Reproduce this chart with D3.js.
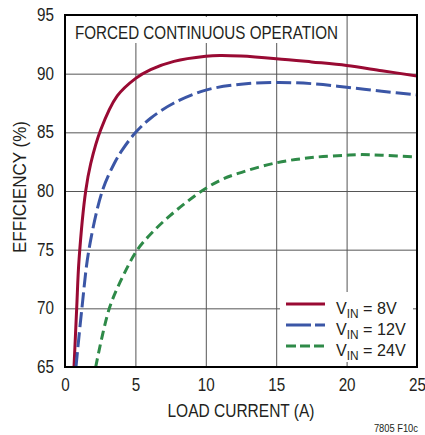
<!DOCTYPE html>
<html>
<head>
<meta charset="utf-8">
<script src="https://cdn.jsdelivr.net/npm/d3@7"></script>
<style>
  body { margin: 0; background: #fff; }
  svg text { font-family: "Liberation Sans", Arial, sans-serif; fill: #231f20; }
</style>
</head>
<body>
<svg id="chart"></svg>
<script>
var width = 425;
var height = 435;
var margin = { top: 15, right: 8, bottom: 68, left: 65 };
var innerW = width - margin.left - margin.right;
var innerH = height - margin.top - margin.bottom;

// load current (A) / efficiency (%)
var load8 = [0.64, 0.83, 1.0, 1.47, 1.82, 2.53, 3.71, 5.02, 6.08, 7.74, 10, 11, 12.5, 15, 17.5, 20, 22.5, 25];
var eff8 = [65, 70, 74.2, 80, 82.3, 85.2, 88.1, 89.6, 90.35, 91.05, 91.48, 91.55, 91.5, 91.28, 91.0, 90.7, 90.25, 89.8];
var load12 = [0.78, 1.2, 1.7, 2.65, 3.48, 4.07, 5.02, 6.08, 7.74, 10, 12.5, 15, 17.5, 20, 22.5, 25];
var eff12 = [65, 70, 75, 80, 82.3, 83.5, 85, 86.2, 87.5, 88.6, 89.1, 89.25, 89.15, 88.85, 88.5, 88.2];
var load24 = [2.18, 3.15, 4.1, 5.15, 6.27, 7.46, 8.64, 9.71, 11.0, 12.3, 15, 17.5, 20, 21, 22.5, 25];
var eff24 = [65, 70, 72.7, 75, 76.56, 77.9, 79.06, 80, 80.9, 81.5, 82.4, 82.85, 83.05, 83.1, 83.05, 82.9];

var xTicks = [0, 5, 10, 15, 20, 25];
var yTicks = [65, 70, 75, 80, 85, 90, 95];
var seriesNames = ['8V', '12V', '24V'];

var series = [
  { name: seriesNames[0], x: load8, y: eff8, color: '#990a33', dash: null, legendDash: null },
  { name: seriesNames[1], x: load12, y: eff12, color: '#3b56a6', dash: '15,5', legendDash: '25,4' },
  { name: seriesNames[2], x: load24, y: eff24, color: '#2e8a48', dash: '9,5', legendDash: '10,4' }
];

// squeeze text horizontally about its anchor point (condensed look)
var narrow = function(sel, k) {
  sel.each(function() {
    var ax = +this.getAttribute('x') || 0;
    this.setAttribute('transform', 'translate(' + ax + ',0) scale(' + k + ',1) translate(' + (-ax) + ',0)');
  });
};
var fitWidth = function(sel, w) {
  sel.attr('textLength', w).attr('lengthAdjust', 'spacingAndGlyphs');
};

var svg = d3.select('#chart').attr('width', width).attr('height', height);
var g = svg.append('g').attr('transform', 'translate(' + margin.left + ',' + margin.top + ')');

var x = d3.scaleLinear().domain([0, 25]).range([0, innerW]);
var y = d3.scaleLinear().domain([65, 95]).range([innerH, 0]);

// grid + tick labels
var xAxis = g.append('g')
  .attr('transform', 'translate(0,' + innerH + ')')
  .call(d3.axisBottom(x).tickValues(xTicks).tickSizeInner(-innerH).tickSizeOuter(0).tickPadding(12));
var yAxis = g.append('g')
  .call(d3.axisLeft(y).tickValues(yTicks).tickSizeInner(-innerW).tickSizeOuter(0).tickPadding(11));
[xAxis, yAxis].forEach(function(a) {
  a.select('.domain').remove();
  a.selectAll('line').attr('stroke', '#555').attr('stroke-width', 1);
  a.selectAll('text').attr('font-size', 17.5).attr('fill', '#231f20')
    .style('font-family', '"Liberation Sans", Arial, sans-serif')
    .call(narrow, 0.87);
});

g.append('clipPath').attr('id', 'plot-clip')
  .append('rect').attr('width', innerW).attr('height', innerH);

var line = d3.line()
  .x(function(d) { return x(d[0]); })
  .y(function(d) { return y(d[1]); })
  .curve(d3.curveCatmullRom.alpha(0.5));

g.append('g').attr('clip-path', 'url(#plot-clip)')
  .selectAll('path').data(series).enter()
  .append('path')
  .attr('d', function(s) { return line(d3.zip(s.x, s.y)); })
  .attr('fill', 'none')
  .attr('stroke', function(s) { return s.color; })
  .attr('stroke-width', 3)
  .attr('stroke-dasharray', function(s) { return s.dash; });

// title box
g.append('rect').attr('x', 2).attr('y', 2).attr('width', 278).attr('height', 26).attr('fill', '#fff');
g.append('text').attr('x', 10).attr('y', 24).attr('font-size', 18.5)
  .text('FORCED CONTINUOUS OPERATION')
  .call(fitWidth, 263);

// legend
var legend = g.append('g').attr('transform', 'translate(215,277)');
legend.append('rect').attr('x', 0).attr('y', 0).attr('width', 133).attr('height', 70).attr('fill', '#fff');
var rows = legend.selectAll('.row').data(series).enter()
  .append('g').attr('class', 'row')
  .attr('transform', function(d, i) { return 'translate(0,' + (12 + i * 21) + ')'; });
rows.append('line')
  .attr('x1', 6).attr('x2', 45).attr('y1', 0).attr('y2', 0)
  .attr('stroke', function(d) { return d.color; })
  .attr('stroke-width', 3)
  .attr('stroke-dasharray', function(d) { return d.legendDash; });
var lt = rows.append('text').attr('x', 56).attr('y', 10).attr('font-size', 17);
lt.append('tspan').text('V');
lt.append('tspan').attr('dy', 4).attr('font-size', 12.5).text('IN');
lt.append('tspan').attr('dy', -4).text(function(d) { return ' = ' + d.name; });
lt.call(narrow, 0.95);

// frame
g.append('rect').attr('width', innerW).attr('height', innerH)
  .attr('fill', 'none').attr('stroke', '#000').attr('stroke-width', 2);

// axis titles
svg.append('text').attr('x', margin.left + innerW / 2).attr('y', 417)
  .attr('text-anchor', 'middle').attr('font-size', 18).text('LOAD CURRENT (A)')
  .call(fitWidth, 147);
svg.append('text').attr('transform', 'translate(26,187) rotate(-90)')
  .attr('text-anchor', 'middle').attr('font-size', 18).text('EFFICIENCY (%)')
  .call(fitWidth, 132);
svg.append('text').attr('x', 418).attr('y', 432).attr('text-anchor', 'end')
  .attr('font-size', 11).text('7805 F10c')
  .call(narrow, 0.85);
</script>
</body>
</html>
